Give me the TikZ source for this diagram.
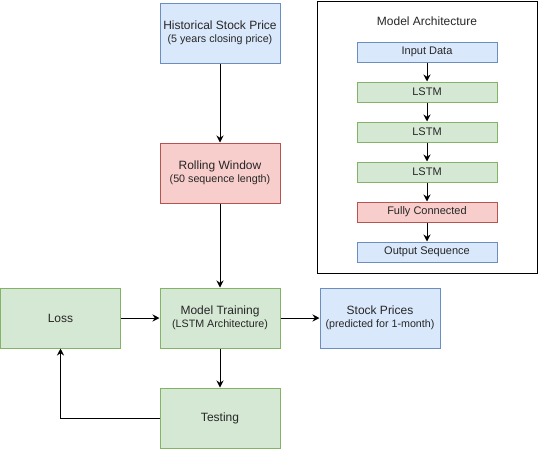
\documentclass[tikz,border=0pt]{standalone}
\usepackage{fontspec}
\setmainfont{Liberation Sans}
\usetikzlibrary{arrows.meta}
\definecolor{bfill}{HTML}{DAE8FC}\definecolor{bdraw}{HTML}{6C8EBF}
\definecolor{rfill}{HTML}{F8CECC}\definecolor{rdraw}{HTML}{B85450}
\definecolor{gfill}{HTML}{D5E8D4}\definecolor{gdraw}{HTML}{82B366}
\definecolor{txt}{HTML}{262626}
\tikzset{
  box/.style={minimum width=120pt,minimum height=60pt,inner sep=0pt,line width=1pt,align=center,text=txt,font=\fontsize{12}{15}\selectfont},
  small/.style={minimum width=140pt,minimum height=20pt,inner sep=0pt,line width=1pt,align=center,text=txt,font=\fontsize{11}{13}\selectfont},
  bluebox/.style={fill=bfill,draw=bdraw},
  redbox/.style={fill=rfill,draw=rdraw},
  greenbox/.style={fill=gfill,draw=gdraw},
  arr/.style={line width=1pt,-{Stealth[length=7pt,width=7pt]}},
}
\newcommand{\sub}[1]{{\fontsize{10.7}{12}\selectfont #1}}
\begin{document}
\begin{tikzpicture}[x=1pt,y=-1pt]
\useasboundingbox (0,0) rectangle (538,448);
\node[box,bluebox] (hist) at (220,33) {Historical Stock Price\\[-1.5pt]\sub{(5 years closing price)}};
\node[box,redbox] (roll) at (220,173) {Rolling Window\\[-1.5pt]\sub{(50 sequence length)}};
\node[box,greenbox] (train) at (220,318) {Model Training\\[-1.5pt]\sub{(LSTM Architecture)}};
\node[box,greenbox] (loss) at (60.5,318) {Loss};
\node[box,bluebox] (stock) at (380,318) {Stock Prices\\[-1.5pt]\sub{(predicted for 1-month)}};
\node[box,greenbox] (test) at (220,418) {Testing};
\draw[arr] (hist) -- (roll);
\draw[arr] (roll) -- (train);
\draw[arr] (loss) -- (train);
\draw[arr] (train) -- (stock);
\draw[arr] (train) -- (test);
\draw[arr] (test.west) -| (loss.south);
% architecture frame
\node[draw=black,line width=1pt,minimum width=220pt,minimum height=272pt,inner sep=0pt] (frame) at (427.5,137.5) {};
\node[text=txt,font=\fontsize{12}{15}\selectfont] (title) at (427,21) {Model Architecture};
\node[small,bluebox] (inp) at (427,52) {Input Data};
\node[small,greenbox] (l1) at (427,92) {LSTM};
\node[small,greenbox] (l2) at (427,132) {LSTM};
\node[small,greenbox] (l3) at (427,172) {LSTM};
\node[small,redbox] (fc) at (427,212) {Fully Connected};
\node[small,bluebox] (out) at (427,252) {Output Sequence};
\draw[arr] (inp) -- (l1);
\draw[arr] (l1) -- (l2);
\draw[arr] (l2) -- (l3);
\draw[arr] (l3) -- (fc);
\draw[arr] (fc) -- (out);
\end{tikzpicture}
\end{document}
